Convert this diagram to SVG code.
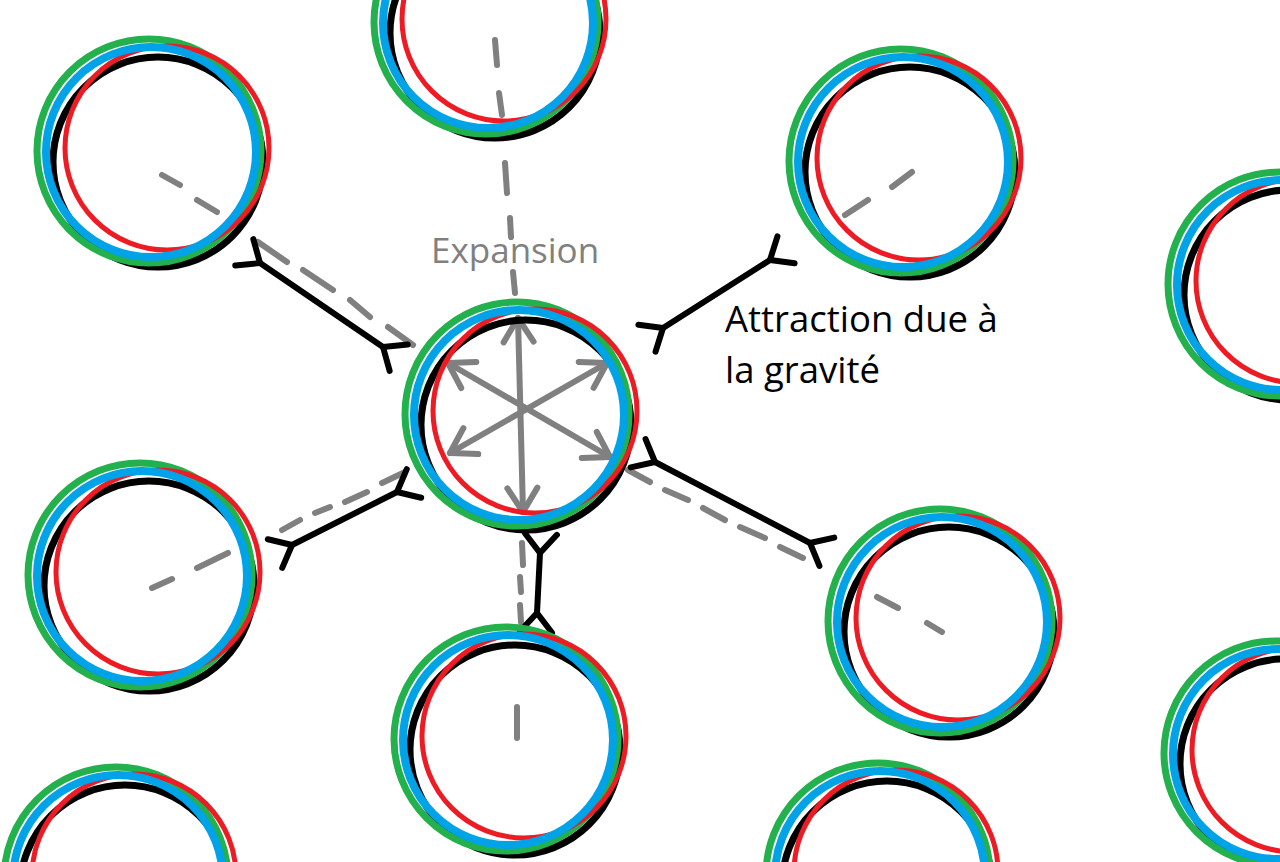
<svg xmlns="http://www.w3.org/2000/svg" xmlns:xlink="http://www.w3.org/1999/xlink" width="1280" height="862" viewBox="0 0 1280 862">
<style>
.k{fill:none;stroke:#000;stroke-width:7}
.r{fill:none;stroke:#ed1c24;stroke-width:5}
.g{fill:none;stroke:#22b14c;stroke-width:7}
.b{fill:none;stroke:#00a2e8;stroke-width:8}
.dash{stroke:#808080;stroke-width:6;stroke-linecap:round;fill:none}
.exp{stroke:#808080;stroke-width:6;stroke-linecap:round;fill:none;marker-start:url(#ah);marker-end:url(#ah)}
.att{stroke:#000;stroke-width:6;stroke-linecap:round;fill:none;marker-start:url(#fk);marker-end:url(#fk)}
.lbl{font-family:"Open Sans","Noto Sans",sans-serif}
</style>
<defs>
<g id="rings">
<circle class="k" cx="7" cy="10" r="105"/>
<circle class="g" cx="-2" cy="-1" r="112"/>
<circle class="r" cx="16" cy="-4" r="102"/>
<circle class="b" cx="0" cy="0" r="105"/>
</g>
<marker id="ah" markerUnits="userSpaceOnUse" orient="auto-start-reverse" markerWidth="60" markerHeight="60" viewBox="-40 -30 60 60" refX="0" refY="0" overflow="visible">
<path d="M-24,-15 L0,0 L-24,15" fill="none" stroke="#808080" stroke-width="6" stroke-linecap="round" stroke-linejoin="round"/>
</marker>
<marker id="fk" markerUnits="userSpaceOnUse" orient="auto-start-reverse" markerWidth="60" markerHeight="60" viewBox="-30 -30 60 60" refX="0" refY="0" overflow="visible">
<path d="M19,-16 L0,0 L19,16" fill="none" stroke="#000" stroke-width="6" stroke-linecap="round" stroke-linejoin="round"/>
</marker>
</defs>
<rect width="1280" height="862" fill="#fff"/>
<g id="connectors">
<g id="expansion-lines">
<path class="dash" d="M162,175L180,185M197,200L217,212M258,242L287,262M303,270L333,290M350,300L370,317M388,327L413,345"/>
<path class="dash" d="M495,40L497,65M499,93L502,115M505,163L507,193M510,218L511,237M513,272L515,293"/>
<path class="dash" d="M912,172L892,187M868,200L845,215"/>
<path class="dash" d="M152,588L172,579M197,568L228,553M282,530L300,520M315,513L330,507M345,502L367,492M382,483L405,472"/>
<path class="dash" d="M628,470L650,482M665,490L688,500M703,508L725,520M740,527L765,538M780,547L803,558M877,597L898,608M927,623L942,632"/>
<path class="dash" d="M522,543L523,565M520,577L521,592M520,605L521,622M517,707L517,738"/>
</g>
<g id="expansion-arrows">
<path class="exp" d="M518,318L523,512"/>
<path class="exp" d="M448,363L610,457"/>
<path class="exp" d="M450,453L607,363"/>
</g>
<g id="attraction">
<path class="att" d="M260,263L383,347"/>
<path class="att" d="M770,260L663,328"/>
<path class="att" d="M292,545L397,492"/>
<path class="att" d="M655,462L810,543"/>
<path class="att" d="M540,553L537,613"/>
</g>
</g>
<g id="node-top-left"><use xlink:href="#rings" href="#rings" x="151" y="152"/></g>
<g id="node-top-center"><use xlink:href="#rings" href="#rings" x="488" y="23"/></g>
<g id="node-top-right"><use xlink:href="#rings" href="#rings" x="903" y="162"/></g>
<g id="node-right-edge-top"><use xlink:href="#rings" href="#rings" x="1282" y="285"/></g>
<g id="node-center"><use xlink:href="#rings" href="#rings" x="519" y="415"/></g>
<g id="node-left-middle"><use xlink:href="#rings" href="#rings" x="142" y="576"/></g>
<g id="node-right-middle"><use xlink:href="#rings" href="#rings" x="942" y="622"/></g>
<g id="node-bottom-center"><use xlink:href="#rings" href="#rings" x="508" y="740"/></g>
<g id="node-bottom-left"><use xlink:href="#rings" href="#rings" x="118" y="880"/></g>
<g id="node-bottom-right"><use xlink:href="#rings" href="#rings" x="880" y="876"/></g>
<g id="node-right-edge-bottom"><use xlink:href="#rings" href="#rings" x="1278" y="754"/></g>
<g id="labels">
<text class="lbl" x="431" y="263" font-size="35" fill="#808080">Expansion</text>
<text class="lbl" x="725" y="332" font-size="36.5" fill="#000">Attraction due à</text>
<text class="lbl" x="725" y="383" font-size="36.5" fill="#000">la gravité</text>
</g>
</svg>
